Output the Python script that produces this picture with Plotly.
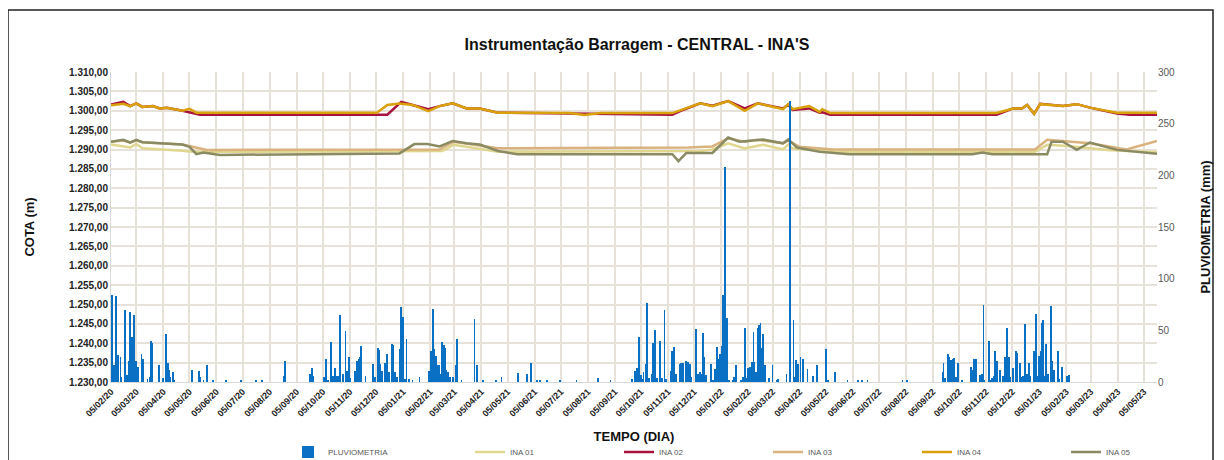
import plotly.graph_objects as go

# ---------------- data ----------------
ina01_dates = ["2020-02-05","2020-02-19","2020-02-27","2020-03-05","2020-03-12","2020-04-27","2020-05-05","2020-05-17",
               "2021-02-19","2021-03-04","2021-04-24","2021-12-12","2021-12-26","2022-01-13","2022-02-01","2022-02-22",
               "2022-03-17","2022-03-23","2022-03-28","2022-05-13","2022-12-31","2023-01-14","2023-02-06","2023-03-27","2023-05-20"]
ina01_vals = [1291.3,1290.8,1290.5,1291.4,1290.3,1289.7,1289.5,1289.4,
              1289.6,1291.2,1289.4,1289.6,1290.0,1291.6,1290.3,1291.2,
              1290.0,1291.3,1290.3,1289.4,1289.4,1291.2,1290.9,1289.8,1289.3]

ina02_dates = ["2020-02-05","2020-02-19","2020-02-27","2020-03-05","2020-03-12","2020-03-24","2020-04-01","2020-04-09",
               "2020-04-27","2020-05-17","2020-12-18","2021-01-03","2021-01-16","2021-02-03","2021-02-16","2021-03-03",
               "2021-03-19","2021-04-03","2021-04-24","2021-11-10","2021-11-22","2021-12-12","2021-12-26","2022-01-13",
               "2022-02-01","2022-02-16","2022-03-17","2022-03-23","2022-03-28","2022-04-16","2022-04-28","2022-05-01",
               "2022-05-10","2022-11-17","2022-12-06","2022-12-16","2022-12-22","2022-12-30","2023-01-06","2023-01-17",
               "2023-02-01","2023-02-17","2023-03-04","2023-04-04","2023-04-19","2023-05-20"]
ina02_vals = [1301.6,1302.3,1301.2,1301.9,1301.0,1301.2,1300.6,1300.8,
              1300.0,1299.0,1299.0,1302.3,1301.5,1300.4,1301.2,1301.9,
              1300.6,1300.6,1299.5,1299.0,1300.2,1301.9,1301.3,1302.5,
              1300.6,1301.9,1300.6,1301.6,1300.2,1300.6,1299.5,1299.6,
              1299.0,1299.0,1300.6,1300.6,1301.5,1299.2,1301.8,1301.5,
              1301.2,1301.7,1300.8,1299.3,1299.0,1299.0]

ina03_dates = ["2020-02-05","2020-02-19","2020-02-27","2020-03-05","2020-03-12","2020-04-27","2020-05-25",
               "2021-02-16","2021-03-04","2021-04-24","2021-11-28","2021-12-12","2021-12-26","2022-01-13","2022-02-01",
               "2022-02-16","2022-03-17","2022-03-23","2022-04-05","2022-05-13","2022-12-31","2023-01-14","2023-02-06",
               "2023-03-04","2023-04-15","2023-05-20"]
ina03_vals = [1292.0,1292.3,1291.8,1292.4,1291.9,1291.3,1289.9,
              1290.0,1292.0,1290.3,1290.5,1290.6,1290.8,1292.9,1292.0,
              1292.5,1291.6,1292.3,1290.7,1290.0,1290.0,1292.5,1292.1,
              1291.6,1290.0,1292.2]

ina04_dates = ["2020-02-05","2020-02-19","2020-02-27","2020-03-05","2020-03-12","2020-03-24","2020-04-01","2020-04-09",
               "2020-04-27","2020-05-05","2020-05-13","2020-12-06","2020-12-18","2021-01-01","2021-01-16","2021-02-03",
               "2021-02-16","2021-03-03","2021-03-19","2021-04-03","2021-04-24","2021-07-15","2021-08-01","2021-08-20",
               "2021-11-10","2021-11-22","2021-12-12","2021-12-26","2022-01-13","2022-02-01","2022-02-16","2022-03-17",
               "2022-03-23","2022-03-28","2022-04-16","2022-04-28","2022-05-01","2022-05-10","2022-11-17","2022-12-06",
               "2022-12-16","2022-12-22","2022-12-30","2023-01-06","2023-01-17","2023-02-01","2023-02-17","2023-03-04",
               "2023-04-04","2023-05-20"]
ina04_vals = [1301.4,1301.8,1301.2,1301.9,1301.0,1301.2,1300.6,1300.8,
              1300.0,1300.5,1299.5,1299.5,1301.5,1301.9,1301.5,1299.9,
              1301.2,1301.9,1300.6,1300.6,1299.5,1299.4,1298.9,1299.4,
              1299.4,1300.3,1301.9,1301.2,1302.5,1300.0,1301.9,1300.4,
              1301.7,1300.4,1301.2,1299.7,1300.4,1299.4,1299.4,1300.6,
              1300.6,1301.5,1299.2,1301.7,1301.5,1301.2,1301.7,1300.8,
              1299.5,1299.5]

ina05_dates = ["2020-02-05","2020-02-19","2020-02-27","2020-03-05","2020-03-12","2020-04-27","2020-05-05","2020-05-13",
               "2020-05-21","2020-06-09","2021-01-01","2021-01-18","2021-02-02","2021-02-16","2021-03-03","2021-03-19",
               "2021-04-03","2021-04-24","2021-05-16","2021-11-10","2021-11-17","2021-11-26","2021-12-26","2022-01-13",
               "2022-01-26","2022-02-22","2022-03-17","2022-03-23","2022-04-02","2022-04-28","2022-06-01","2022-10-20",
               "2022-11-01","2022-11-12","2023-01-14","2023-01-19","2023-02-01","2023-02-17","2023-03-04","2023-04-04",
               "2023-05-20"]
ina05_vals = [1292.0,1292.5,1291.8,1292.5,1291.9,1291.3,1290.7,1288.8,
              1289.2,1288.6,1289.0,1291.4,1291.4,1290.8,1292.2,1291.6,
              1291.3,1289.6,1288.8,1288.8,1287.0,1289.1,1289.1,1293.1,
              1292.0,1292.6,1291.6,1292.6,1290.5,1289.4,1288.8,1288.8,
              1289.2,1288.8,1288.8,1292.0,1292.0,1289.9,1291.8,1289.9,
              1288.9]

rain_dates = ["2020-02-06","2020-02-07","2020-02-08","2020-02-11","2020-02-13","2020-02-16","2020-02-17","2020-02-21",
              "2020-02-23","2020-02-24","2020-02-26","2020-02-27","2020-02-29","2020-03-02","2020-03-03","2020-03-05",
              "2020-03-07","2020-03-11","2020-03-13","2020-03-18","2020-03-21","2020-03-22","2020-03-23","2020-03-31",
              "2020-04-04","2020-04-05","2020-04-08","2020-04-10","2020-04-12","2020-04-13","2020-04-16","2020-04-17",
              "2020-05-08","2020-05-16","2020-05-17","2020-05-21","2020-05-25","2020-06-01","2020-06-16","2020-07-03",
              "2020-07-20","2020-07-27","2020-08-21","2020-08-23","2020-09-20","2020-09-23","2020-09-24","2020-10-06",
              "2020-10-09","2020-10-11","2020-10-14","2020-10-17","2020-10-19","2020-10-21","2020-10-24","2020-10-25",
              "2020-10-28","2020-10-31","2020-11-02","2020-11-04","2020-11-05","2020-11-11","2020-11-13","2020-11-15",
              "2020-11-17","2020-11-18","2020-11-23","2020-12-02","2020-12-04","2020-12-07","2020-12-09","2020-12-10",
              "2020-12-12","2020-12-15","2020-12-18","2020-12-20","2020-12-23","2020-12-25","2020-12-27","2020-12-29",
              "2021-01-01","2021-01-03","2021-01-05","2021-01-07","2021-01-09","2021-01-12","2021-01-16","2021-01-24",
              "2021-02-04","2021-02-06","2021-02-08","2021-02-09","2021-02-10","2021-02-12","2021-02-13","2021-02-15",
              "2021-02-16","2021-02-19","2021-02-21","2021-02-22","2021-02-24","2021-02-26","2021-02-28","2021-03-03",
              "2021-03-07","2021-03-08","2021-03-13","2021-03-28","2021-03-31","2021-04-07","2021-04-22","2021-04-28",
              "2021-05-17","2021-05-27","2021-06-01","2021-06-08","2021-06-11","2021-06-19","2021-07-04","2021-07-23",
              "2021-08-17","2021-08-31","2021-09-25","2021-09-28","2021-09-30","2021-10-03","2021-10-05","2021-10-07",
              "2021-10-08","2021-10-11","2021-10-12","2021-10-14","2021-10-17","2021-10-19","2021-10-21","2021-10-23",
              "2021-10-27","2021-10-29","2021-11-01","2021-11-03","2021-11-08","2021-11-10","2021-11-12","2021-11-14",
              "2021-11-19","2021-11-20","2021-11-22","2021-11-26","2021-11-28","2021-11-30","2021-12-02","2021-12-07",
              "2021-12-09","2021-12-12","2021-12-13","2021-12-15","2021-12-17","2021-12-19","2021-12-24","2021-12-27",
              "2021-12-29","2021-12-31","2022-01-02","2022-01-04","2022-01-06","2022-01-07","2022-01-09","2022-01-10",
              "2022-01-12","2022-01-14","2022-01-18","2022-01-20","2022-01-22","2022-01-28","2022-01-30","2022-02-01",
              "2022-02-03","2022-02-05","2022-02-07","2022-02-09","2022-02-11","2022-02-12","2022-02-14","2022-02-16",
              "2022-02-17","2022-02-19","2022-02-21","2022-02-22","2022-02-24","2022-03-01","2022-03-05","2022-03-10",
              "2022-03-11","2022-03-21","2022-03-25","2022-03-29","2022-03-31","2022-04-01","2022-04-03","2022-04-06",
              "2022-04-09","2022-04-14","2022-04-20","2022-04-25","2022-05-05","2022-05-08","2022-05-16","2022-05-30",
              "2022-06-11","2022-06-16","2022-06-22","2022-08-01","2022-08-06","2022-09-16","2022-09-17","2022-09-19",
              "2022-09-22","2022-09-23","2022-09-26","2022-09-28","2022-09-29","2022-10-01","2022-10-04","2022-10-08",
              "2022-10-19","2022-10-21","2022-10-22","2022-10-24","2022-10-29","2022-10-31","2022-11-02","2022-11-03",
              "2022-11-08","2022-11-09","2022-11-12","2022-11-14","2022-11-15","2022-11-17","2022-11-21","2022-11-24",
              "2022-11-26","2022-11-27","2022-11-29","2022-12-01","2022-12-02","2022-12-06","2022-12-09","2022-12-11",
              "2022-12-14","2022-12-15","2022-12-17","2022-12-19","2022-12-20","2022-12-22","2022-12-24","2022-12-26",
              "2022-12-30","2023-01-01","2023-01-03","2023-01-05","2023-01-07","2023-01-08","2023-01-09","2023-01-11",
              "2023-01-13","2023-01-15","2023-01-18","2023-01-20","2023-01-22","2023-01-26","2023-01-28","2023-01-31",
              "2023-02-06","2023-02-08"]
rain_mm = [84,15,16,83,26,24,5,70,
           7,7,20,68,44,65,24,20,
           15,27,22,3,5,40,38,16,
           4,4,46,18,12,5,10,2,
           12,11,5,2,16,1,2,2,
           1,1,6,20,8,14,6,5,
           22,2,39,6,14,6,6,65,
           8,49,11,24,4,11,20,22,
           24,35,6,17,5,33,31,17,
           11,18,27,10,37,36,10,5,
           32,73,63,3,42,3,2,5,
           11,30,71,43,32,25,16,16,
           8,39,36,33,12,10,5,5,
           16,42,2,61,16,2,2,5,
           9,8,18,2,2,2,2,2,
           4,1,3,11,14,44,7,3,
           10,17,76,4,8,38,50,4,
           40,4,70,3,11,30,34,8,
           17,18,18,20,19,17,5,51,
           8,10,8,47,24,7,17,2,
           13,34,22,27,35,84,208,148,
           62,2,2,5,16,2,5,52,
           4,14,15,19,48,19,10,52,
           55,57,33,46,16,4,16,2,
           3,8,272,60,5,21,17,24,
           22,13,6,16,32,2,10,1,
           1,1,1,1,2,10,18,4,
           27,24,21,22,23,5,18,2,
           15,12,22,22,7,8,75,2,
           40,2,4,6,30,20,12,6,
           10,24,52,24,5,14,30,28,
           18,5,6,30,56,8,18,6,
           30,66,6,25,30,57,60,6,
           37,8,74,20,12,30,3,15,
           6,7]

tick_dates = ["2020-02-05","2020-03-05","2020-04-05","2020-05-05","2020-06-05","2020-07-05","2020-08-05","2020-09-05",
              "2020-10-05","2020-11-05","2020-12-05","2021-01-05","2021-02-05","2021-03-05","2021-04-05","2021-05-05",
              "2021-06-05","2021-07-05","2021-08-05","2021-09-05","2021-10-05","2021-11-05","2021-12-05","2022-01-05",
              "2022-02-05","2022-03-05","2022-04-05","2022-05-05","2022-06-05","2022-07-05","2022-08-05","2022-09-05",
              "2022-10-05","2022-11-05","2022-12-05","2023-01-05","2023-02-05","2023-03-05","2023-04-05","2023-05-05"]
tick_labels = ["05/02/20","05/03/20","05/04/20","05/05/20","05/06/20","05/07/20","05/08/20","05/09/20",
               "05/10/20","05/11/20","05/12/20","05/01/21","05/02/21","05/03/21","05/04/21","05/05/21",
               "05/06/21","05/07/21","05/08/21","05/09/21","05/10/21","05/11/21","05/12/21","05/01/22",
               "05/02/22","05/03/22","05/04/22","05/05/22","05/06/22","05/07/22","05/08/22","05/09/22",
               "05/10/22","05/11/22","05/12/22","05/01/23","05/02/23","05/03/23","05/04/23","05/05/23"]

# ---------------- figure ----------------
FONT = "Liberation Sans, Arial, sans-serif"
GRID = "#E6E2DA"
OFF = 8                      # page body margin of the html page
W, H = 1224 - OFF, 460 - OFF
L, T = 111 - OFF, 72 - OFF   # plot area left/top in figure px
PR, PB = 1157 - OFF, 382 - OFF
R, B = W - PR, H - PB
PW, PH = PR - L, PB - T


def px_x(px):  # page px -> paper x
    return (px - OFF - L) / PW


def px_y(py):  # page px -> paper y
    return (PB - (py - OFF)) / PH


fig = go.Figure()

line_specs = [
    ("INA 01", ina01_dates, ina01_vals, "#E0D68E"),
    ("INA 02", ina02_dates, ina02_vals, "#A8123E"),
    ("INA 03", ina03_dates, ina03_vals, "#D9B27E"),
    ("INA 04", ina04_dates, ina04_vals, "#D9A10C"),
    ("INA 05", ina05_dates, ina05_vals, "#8B8B63"),
]
for name, d, v, c in line_specs:
    fig.add_trace(go.Scatter(x=d, y=v, name=name, mode="lines",
                             line=dict(color=c, width=2.5), yaxis="y", legend="legend"))

fig.add_trace(go.Bar(x=rain_dates, y=rain_mm, name="PLUVIOMETRIA", yaxis="y2",
                     marker=dict(color="#0A70C4", line=dict(width=0)),
                     width=86400000 * 0.9, legend="legend2"))

fig.update_layout(
    width=W, height=H,
    margin=dict(l=L, r=R, t=T, b=B, autoexpand=False),
    paper_bgcolor="white", plot_bgcolor="white",
    separators=",.",
    bargap=0,
    font=dict(family=FONT, color="#222222"),
    title=dict(text="<b>Instrumentação Barragem - CENTRAL - INA'S</b>",
               x=(637 - OFF) / W, xanchor="center", xref="container",
               y=1 - (44 - OFF) / H, yanchor="middle", yref="container",
               font=dict(size=16, color="#111111", family=FONT)),
    xaxis=dict(type="date", range=["2020-02-05", "2023-05-20"], automargin=False,
               tickmode="array", tickvals=tick_dates, ticktext=tick_labels,
               tickangle=-45, tickfont=dict(size=9, color="#222222", weight="bold"),
               showgrid=True, gridcolor=GRID, gridwidth=1.5,
               showline=True, linecolor="#D9D9D9", linewidth=1,
               ticks="", zeroline=False,
               title=dict(text="<b>TEMPO (DIA)</b>", font=dict(size=13, color="#111111"), standoff=14)),
    yaxis=dict(range=[1230, 1310], dtick=5, tick0=1230, tickformat=",.2f", automargin=False,
               tickfont=dict(size=10, color="#222222", weight="bold"),
               showgrid=True, gridcolor=GRID, gridwidth=1.5,
               showline=True, linecolor="#D9D9D9", linewidth=1, zeroline=False,
               title=dict(text="<b>COTA (m)</b>", font=dict(size=13, color="#111111"), standoff=31)),
    yaxis2=dict(range=[0, 300], dtick=50, overlaying="y", side="right", automargin=False,
                tickfont=dict(size=10, color="#595959"), showgrid=False, zeroline=False,
                title=dict(text="<b>PLUVIOMETRIA (mm)</b>", font=dict(size=13, color="#111111"), standoff=26)),
    legend=dict(orientation="h", x=px_x(470), xanchor="left",
                y=px_y(452), yanchor="middle",
                entrywidthmode="pixels", entrywidth=104, itemwidth=30,
                font=dict(size=8, color="#595959"), bgcolor="rgba(0,0,0,0)"),
    legend2=dict(orientation="h", x=px_x(288), xanchor="left",
                 y=px_y(452), yanchor="middle", itemwidth=30,
                 font=dict(size=8, color="#595959"), bgcolor="rgba(0,0,0,0)"),
    shapes=[dict(type="rect", xref="paper", yref="paper",
                 x0=px_x(8), x1=px_x(1213), y0=px_y(470), y1=px_y(10),
                 line=dict(color="#222222", width=1.5), layer="below")],
)

fig.write_html("out.html")
